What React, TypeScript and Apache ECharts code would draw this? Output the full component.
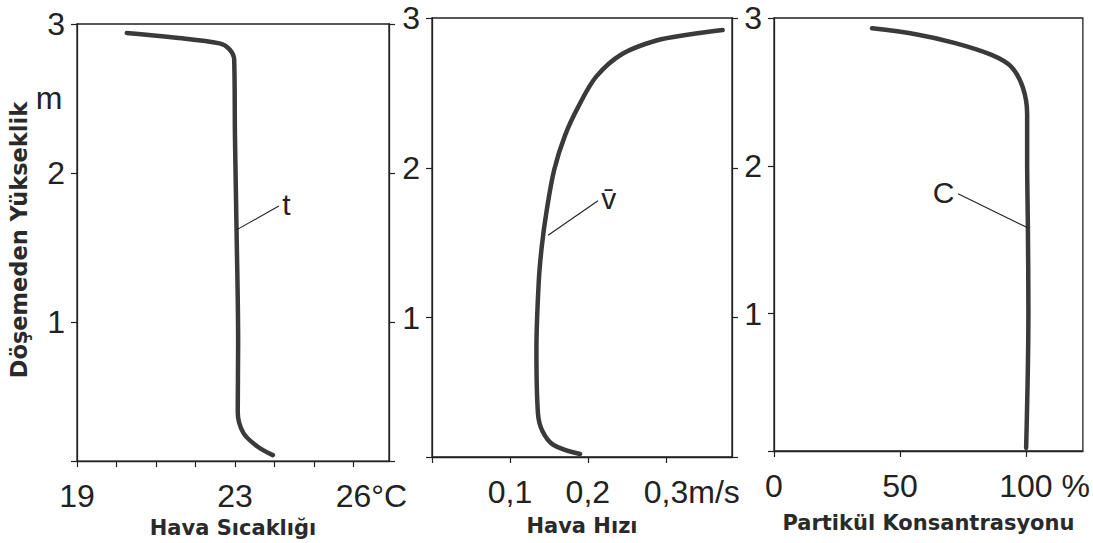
import React, { useEffect, useRef } from 'react';
import * as echarts from 'echarts';

// ---- data ----
const heightMin = 0.07;
const heightMax = 3;

// Panel 1: air temperature t (°C) vs height (m)
const tempValues = [20.26, 21.45, 22.61, 22.86, 22.98, 23.0, 23.04, 23.08, 23.07, 23.21, 23.56, 23.96];
const tempHeights = [2.94, 2.91, 2.87, 2.83, 2.76, 2.24, 1.62, 0.86, 0.4, 0.26, 0.17, 0.11];
const tempTickLabels: [number, string][] = [[19, '19'], [23, '23'], [26, '26°C']];
const tempLeader = [[23.04, 1.62], [24.11, 1.78]];

// Panel 2: air speed v (m/s) vs height
const speedValues = [0.373, 0.33, 0.288, 0.244, 0.211, 0.188, 0.171, 0.157, 0.147, 0.141, 0.137, 0.134, 0.136, 0.142, 0.156, 0.19];
const speedHeights = [2.92, 2.89, 2.85, 2.76, 2.61, 2.41, 2.22, 1.99, 1.71, 1.48, 1.24, 0.78, 0.36, 0.24, 0.15, 0.09];
const speedTickLabels: [number, string][] = [[0.1, '0,1'], [0.2, '0,2'], [0.3, '0,3m/s']];
const speedLeader = [[0.149, 1.55], [0.213, 1.78]];

// Panel 3: particle concentration C (%) vs height
const concValues = [38.9, 56.2, 71.9, 86.3, 94.1, 98.7, 100.4, 100.4, 100.7, 100.9, 100.0];
const concHeights = [2.93, 2.89, 2.83, 2.75, 2.67, 2.53, 2.35, 2.05, 1.57, 1.01, 0.09];
const concTickLabels: [number, string][] = [[0, '0'], [50, '50'], [100, '100 %']];
const concLeader = [[100.6, 1.58], [73.0, 1.81]];

const xTitles = ['Hava Sıcaklığı', 'Hava Hızı', 'Partikül Konsantrasyonu'];
const yTitle = 'Döşemeden Yükseklik';
const yUnit = 'm';
const curveNames = ['t', 'v\u0304', 'C'];

// ---- styles ----
const NUM_FONT = "'Liberation Sans', Arial, sans-serif";
const TITLE_FONT = "'DejaVu Sans', sans-serif";
const INK = '#222';
const CURVE = '#3a3a3a';

const grids = [
  { left: 77, top: 24, width: 312, height: 441 },
  { left: 432, top: 18, width: 300, height: 439 },
  { left: 774, top: 18, width: 309, height: 433 },
];
const xRanges = [
  { min: 19, max: 26.9, interval: 1 },
  { min: 0, max: 0.385, interval: 0.1 },
  { min: 0, max: 122.5, interval: 50 },
];
const unitPads = [36, 52, 37];

function makeFormatter(labels: [number, string][], padIndex: number) {
  return (v: number) => {
    for (let k = 0; k < labels.length; k++) {
      const [val, txt] = labels[k];
      if (Math.abs(v - val) < 1e-6) {
        if (k === labels.length - 1) return `{u${padIndex}|${txt}}`;
        return txt;
      }
    }
    return '';
  };
}

const numStyle = { fontSize: 32, fontFamily: NUM_FONT, color: INK };

export default function App() {
  const ref = useRef<HTMLDivElement>(null);
  useEffect(() => {
    if (!ref.current) return;
    const chart = echarts.init(ref.current, undefined, { renderer: 'svg' });

    const tickLabelSets = [tempTickLabels, speedTickLabels, concTickLabels];
    const seriesData = [
      tempValues.map((v, i) => [v, tempHeights[i]]),
      speedValues.map((v, i) => [v, speedHeights[i]]),
      concValues.map((v, i) => [v, concHeights[i]]),
    ];
    const leaders = [tempLeader, speedLeader, concLeader];
    const nameGaps = [54, 58, 61];

    const rich: any = {};
    unitPads.forEach((p, i) => {
      rich['u' + i] = { ...numStyle, padding: [0, 0, 0, p] };
    });

    const xAxis = grids.map((_, i) => ({
      type: 'value',
      gridIndex: i,
      min: xRanges[i].min,
      max: xRanges[i].max,
      interval: xRanges[i].interval,
      name: xTitles[i],
      nameLocation: 'middle',
      nameGap: nameGaps[i],
      nameTextStyle: { fontSize: 21, fontWeight: 'bold', fontFamily: TITLE_FONT, color: '#2a2a2a' },
      axisLine: { show: true, lineStyle: { color: INK, width: 1.3 } },
      axisTick: { show: true, inside: false, length: 6, lineStyle: { color: INK, width: 1.2 } },
      axisLabel: {
        show: true,
        margin: 19,
        ...numStyle,
        showMaxLabel: false,
        formatter: makeFormatter(tickLabelSets[i], i),
        rich,
      },
      splitLine: { show: false },
    }));

    const yAxis: any[] = [];
    grids.forEach((_, i) => {
      yAxis.push({
        type: 'value',
        gridIndex: i,
        position: 'left',
        min: heightMin,
        max: heightMax,
        splitNumber: 3,
        axisLine: { show: true, lineStyle: { color: INK, width: 1.3 } },
        axisTick: { show: true, inside: false, length: 6, lineStyle: { color: INK, width: 1.2 } },
        axisLabel: {
          show: true,
          margin: 12,
          ...numStyle,
          lineHeight: 24,
          formatter: (v: number) => (Math.abs(v - Math.round(v)) < 1e-6 && v >= 1 ? String(Math.round(v)) : ''),
        },
        splitLine: { show: false },
      });
      if (i < 2) {
        yAxis.push({
          type: 'value',
          gridIndex: i,
          position: 'right',
          min: heightMin,
          max: heightMax,
          splitNumber: 3,
          axisLine: { show: true, lineStyle: { color: INK, width: 1.3 } },
          axisTick: { show: true, inside: false, length: 6, lineStyle: { color: INK, width: 1.2 } },
          axisLabel: { show: false },
          splitLine: { show: false },
        });
      }
    });
    const leftYIndex = [0, 2, 4];

    const series = grids.map((_, i) => ({
      type: 'line',
      xAxisIndex: i,
      yAxisIndex: leftYIndex[i],
      data: seriesData[i],
      showSymbol: false,
      smooth: 0.35,
      lineStyle: { color: CURVE, width: 4.5, cap: 'round', join: 'round' },
      markLine: {
        silent: true,
        symbol: ['none', 'none'],
        lineStyle: { color: INK, width: 1.1, type: 'solid' },
        label: {
          show: true,
          position: 'end',
          distance: 4,
          formatter: curveNames[i],
          fontSize: 30,
          fontFamily: NUM_FONT,
          color: INK,
        },
        data: [[{ coord: leaders[i][0] }, { coord: leaders[i][1] }]],
      },
    }));

    chart.setOption({
      animation: false,
      backgroundColor: '#ffffff',
      grid: grids.map((g) => ({
        ...g,
        show: true,
        borderColor: INK,
        borderWidth: 1.3,
        backgroundColor: 'transparent',
        containLabel: false,
      })),
      xAxis,
      yAxis,
      series,
      graphic: [
        {
          type: 'text',
          x: 49,
          y: 98,
          style: { text: yUnit, fontSize: 32, fontFamily: NUM_FONT, fill: INK, align: 'center', verticalAlign: 'middle' },
        },
        {
          type: 'text',
          x: 19,
          y: 240,
          rotation: Math.PI / 2,
          style: {
            text: yTitle,
            fontSize: 22.5,
            fontWeight: 'bold',
            fontFamily: TITLE_FONT,
            fill: '#2a2a2a',
            align: 'center',
            verticalAlign: 'middle',
          },
        },
      ],
    });
    return () => chart.dispose();
  }, []);

  return (
    <div
      ref={ref}
      style={{ position: 'absolute', left: 0, top: 0, width: 1093, height: 543, background: '#fff' }}
    />
  );
}
